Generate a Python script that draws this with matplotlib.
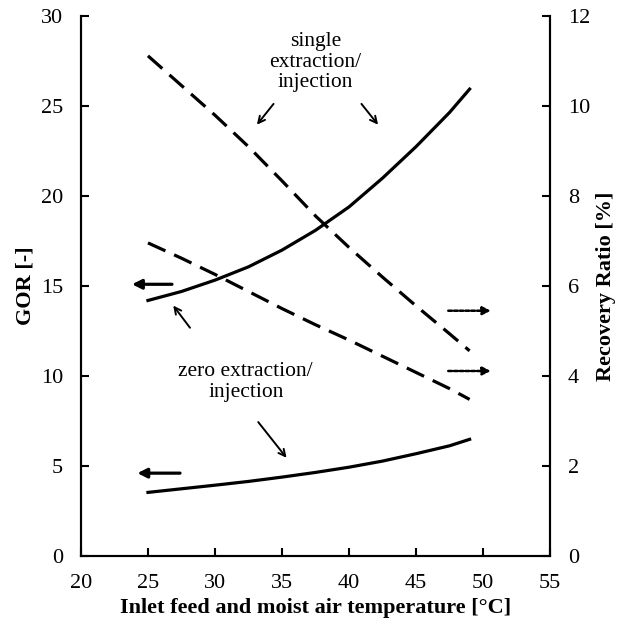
import numpy as np
import matplotlib.pyplot as plt

# inlet temperature [C]
temp = [25, 27.5, 30, 32.5, 35, 37.5, 40, 42.5, 45, 47.5, 49]

# GOR [-]
gor_single = [14.2, 14.7, 15.33, 16.07, 17.0, 18.1, 19.4, 21.0, 22.75, 24.65, 25.95]
gor_zero = [3.53, 3.73, 3.93, 4.14, 4.38, 4.64, 4.93, 5.27, 5.68, 6.12, 6.48]

# recovery ratio [%]
rr_single = [11.12, 10.46, 9.8, 9.1, 8.34, 7.56, 6.86, 6.2, 5.56, 4.94, 4.56]
rr_zero = [6.96, 6.62, 6.26, 5.88, 5.5, 5.14, 4.8, 4.44, 4.08, 3.72, 3.48]

plt.rcParams["font.family"] = ["Liberation Serif", "DejaVu Serif"]

fig = plt.figure(figsize=(6.18, 6.26), dpi=100)
ax = fig.add_axes([0.131, 0.112, 0.759, 0.862])
ax2 = ax.twinx()

dash = (0, (6, 3))
ax.plot(temp, gor_single, color="black", lw=2.3)
ax.plot(temp, gor_zero, color="black", lw=2.3)
ax2.plot(temp, rr_single, color="black", lw=2.3, ls=dash)
ax2.plot(temp, rr_zero, color="black", lw=2.3, ls=dash)

ax.set_xlim(20, 55)
ax.set_ylim(0, 30)
ax2.set_ylim(0, 12)
ax.set_xticks(np.arange(20, 56, 5))
ax.set_yticks(np.arange(0, 31, 5))
ax2.set_yticks(np.arange(0, 13, 2))

for a in (ax, ax2):
    a.spines["top"].set_visible(False)
    for s in a.spines.values():
        s.set_linewidth(1.5)
    a.tick_params(direction="in", length=6, width=1.5, labelsize=16, pad=13)

ax.set_xlabel("Inlet feed and moist air temperature [°C]", fontsize=16, fontweight="bold")
ax.set_ylabel("GOR [-]", fontsize=16, fontweight="bold")
ax2.set_ylabel("Recovery Ratio [%]", fontsize=16, fontweight="bold", labelpad=4)

# --- annotations ---
ax.text(37.5, 27.45, "single\nextraction/\ninjection", ha="center", va="center",
        fontsize=15.5, linespacing=1.12)
ax.text(32.3, 9.65, "zero extraction/\ninjection", ha="center", va="center",
        fontsize=15.5, linespacing=1.12)

arrow = dict(arrowstyle="->", color="black", lw=1.4, mutation_scale=12)
ax.annotate("", xy=(33.0, 23.85), xytext=(34.5, 25.25), arrowprops=arrow)
ax.annotate("", xy=(42.3, 23.85), xytext=(40.8, 25.25), arrowprops=arrow)
ax.annotate("", xy=(26.76, 14.04), xytext=(28.26, 12.56), arrowprops=arrow)
ax.annotate("", xy=(35.47, 5.33), xytext=(33.1, 7.56), arrowprops=arrow)

big = dict(arrowstyle="-|>", color="black", lw=2.3, mutation_scale=14)
ax.annotate("", xy=(23.6, 15.1), xytext=(27.0, 15.1), arrowprops=big)
ax.annotate("", xy=(24.0, 4.6), xytext=(27.6, 4.6), arrowprops=big)

dot = dict(arrowstyle="-|>", color="black", lw=1.8, ls=(0, (1.5, 0.8)), mutation_scale=12)
ax.annotate("", xy=(50.8, 13.63), xytext=(47.2, 13.63), arrowprops=dot)
ax.annotate("", xy=(50.8, 10.28), xytext=(47.2, 10.28), arrowprops=dot)

plt.savefig("out.png", dpi=100)
